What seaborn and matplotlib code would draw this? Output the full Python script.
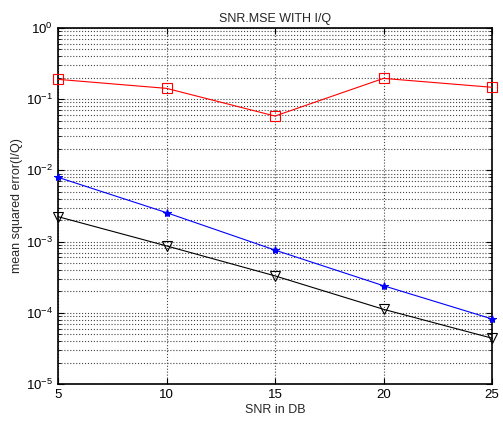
import matplotlib
matplotlib.use("Agg")
import matplotlib.pyplot as plt
import seaborn as sns
import numpy as np
from matplotlib.ticker import LogLocator, NullFormatter

sns.set_style("ticks")
plt.rcParams['font.family'] = ['Liberation Sans', 'DejaVu Sans']

snr = [5, 10, 15, 20, 25]
mse_red = [0.19, 0.142, 0.058, 0.196, 0.147]
mse_blue = [0.0080, 0.00255, 0.00076, 0.00024, 0.000082]
mse_black = [0.00224, 0.00087, 0.00033, 0.000112, 0.000044]

fig = plt.figure(figsize=(5.03, 4.25), dpi=100)
ax = fig.add_axes([58/503, 41/425, 434/503, 356/425])

sns.lineplot(x=snr, y=mse_red, ax=ax, color='red', marker='s', markersize=7,
             markerfacecolor='none', markeredgecolor='red', markeredgewidth=0.8,
             linewidth=0.8, clip_on=False, zorder=5)
sns.lineplot(x=snr, y=mse_blue, ax=ax, color='blue', marker='*', markersize=6,
             markerfacecolor='blue', markeredgecolor='blue', linewidth=0.8,
             clip_on=False, zorder=5)
sns.lineplot(x=snr, y=mse_black, ax=ax, color='black', marker='v', markersize=7,
             markerfacecolor='none', markeredgecolor='black', markeredgewidth=0.8,
             linewidth=0.8, clip_on=False, zorder=5)

ax.set_yscale('log')
ax.set_xlim(5, 25)
ax.set_ylim(1e-5, 1e0)
ax.set_xticks([5, 10, 15, 20, 25])
ax.yaxis.set_major_locator(LogLocator(base=10, numticks=10))
ax.yaxis.set_minor_locator(LogLocator(base=10, subs=np.arange(2, 10), numticks=20))
ax.yaxis.set_minor_formatter(NullFormatter())

ax.grid(True, which='major', axis='both', color='#444444', linestyle=':', linewidth=0.8)
ax.grid(True, which='minor', axis='y', color='#444444', linestyle=':', linewidth=0.8)

for s in ax.spines.values():
    s.set_visible(True)
    s.set_color('black')
    s.set_linewidth(1.2)

ax.tick_params(axis='both', which='both', direction='in', top=True, right=True,
               labelsize=9.5, colors='black')
ax.tick_params(which='major', length=4)
ax.tick_params(which='minor', length=2)

ax.set_title('SNR.MSE WITH I/Q', fontsize=9, pad=4)
ax.set_xlabel('SNR in DB', fontsize=9, labelpad=2)
ax.set_ylabel('mean squared error(I/Q)', fontsize=9, labelpad=2)

fig.savefig('out.png', dpi=100, facecolor='white')
